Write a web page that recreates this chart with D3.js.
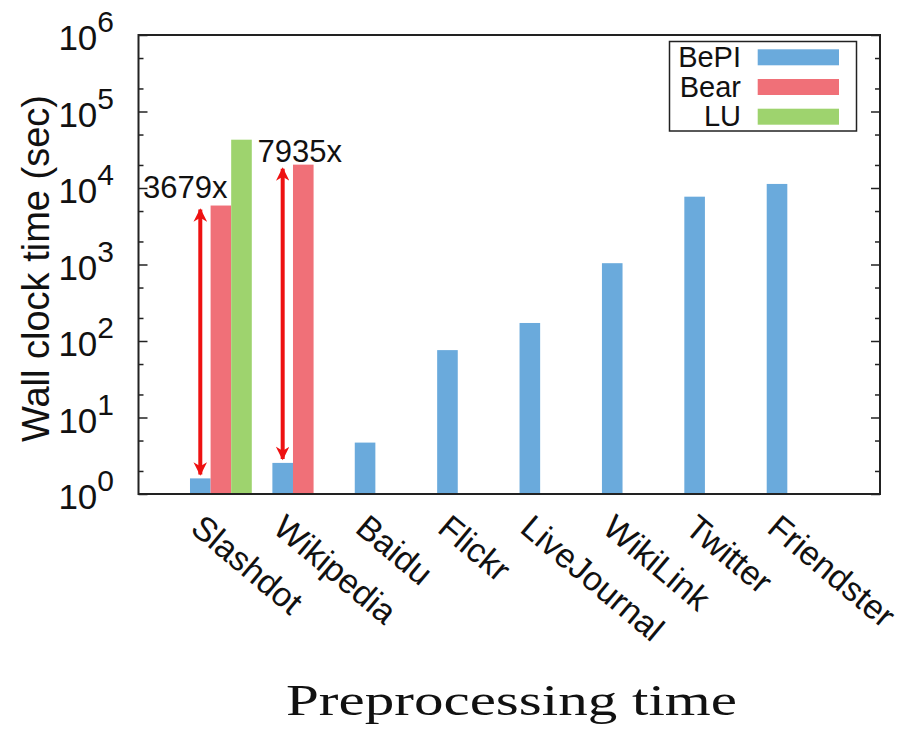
<!DOCTYPE html>
<html>
<head>
<meta charset="utf-8">
<script src="https://cdn.jsdelivr.net/npm/d3@7"></script>
<style>
	body { margin: 0; background: #fff; }
	svg text { font-family: "Liberation Sans", Arial, sans-serif; fill: #111; }
</style>
</head>
<body>
<div id="chart"></div>
<script>
// data
var categories = ["Slashdot", "Wikipedia", "Baidu", "Flickr", "LiveJournal", "WikiLink", "Twitter", "Friendster"];
var bepi = [1.6, 2.55, 4.7, 76, 172, 1040, 7700, 11300];
var bear = [5900, 20200, null, null, null, null, null, null];
var lu = [42800, null, null, null, null, null, null, null];
var seriesNames = ["BePI", "Bear", "LU"];
var seriesColors = ["#6aaadc", "#f07078", "#9ed36e"];
var majorTicks = [1, 10, 100, 1000, 10000, 100000, 1000000];
var minorTicks = [2, 5, 20, 50, 200, 500, 2000, 5000, 20000, 50000, 200000, 500000];
// speed-up arrows: category index and label
var speedups = [{ i: 0, label: "3679x", dx: -15, dy: -12 }, { i: 1, label: "7935x", dx: 17, dy: -7 }];

var width = 915;
var height = 731;
var plotLeft = 138.5, plotRight = 880, plotTop = 35, plotBottom = 494;

var svg = d3.select("#chart")
	.append("svg")
	.attr("width", width)
	.attr("height", height);

var x = d3.scaleLinear().domain([0, categories.length + 1]).range([plotLeft, plotRight]);
var y = d3.scaleLog().domain([1, 1e6]).range([plotBottom, plotTop]);
var barW = 0.25;

var allSeries = [bepi, bear, lu];

// bars
allSeries.forEach(function (values, s) {
	var rows = values.map(function (v, i) { return { v: v, i: i }; })
		.filter(function (d) { return d.v !== null; });
	svg.append("g").selectAll("rect")
		.data(rows)
		.enter()
		.append("rect")
		.attr("x", function (d) { return x(d.i + 1 + (s - 1.5) * barW); })
		.attr("width", x(barW) - x(0))
		.attr("y", function (d) { return y(d.v); })
		.attr("height", function (d) { return plotBottom - y(d.v); })
		.attr("fill", seriesColors[s]);
});

// axes ticks (inward, mirrored)
function tickAxis (axisFn, pos, vals, len) {
	var g = svg.append("g")
		.attr("transform", "translate(" + pos + ",0)")
		.call(axisFn(y).tickValues(vals).tickSize(len).tickFormat(""));
	g.select(".domain").remove();
	g.selectAll("line").attr("stroke", "#222").attr("stroke-width", 1.5);
}
tickAxis(d3.axisLeft, plotLeft, majorTicks, -9);
tickAxis(d3.axisLeft, plotLeft, minorTicks, -5);
tickAxis(d3.axisRight, plotRight, majorTicks, -9);
tickAxis(d3.axisRight, plotRight, minorTicks, -5);

// frame
svg.append("rect")
	.attr("x", plotLeft).attr("y", plotTop)
	.attr("width", plotRight - plotLeft).attr("height", plotBottom - plotTop)
	.attr("fill", "none")
	.attr("stroke", "#222")
	.attr("stroke-width", 2);

// y tick labels with superscripts
var ylab = svg.append("g").selectAll("text")
	.data(majorTicks)
	.enter()
	.append("text")
	.attr("x", 114)
	.attr("y", function (d) { return y(d) + 15; })
	.attr("text-anchor", "end")
	.style("font-size", "35px");
ylab.append("tspan").text("10");
ylab.append("tspan")
	.attr("dy", -18)
	.style("font-size", "30px")
	.text(function (d) { return Math.round(Math.log10(d)); });

// y axis title
svg.append("text")
	.attr("transform", "translate(49," + ((plotTop + plotBottom) / 2 + 4) + ") rotate(-90)")
	.attr("text-anchor", "middle")
	.style("font-size", "38px")
	.text("Wall clock time (sec)");

// x category labels
svg.append("g").selectAll("text")
	.data(categories)
	.enter()
	.append("text")
	.attr("transform", function (d, i) {
		return "translate(" + (x(i + 1) - 32) + ",531) rotate(40)";
	})
	.style("font-size", "34px")
	.text(function (d) { return d; });

// x title
svg.append("text")
	.attr("x", (286 + 737) / 2)
	.attr("y", 715)
	.attr("text-anchor", "middle")
	.attr("textLength", 451)
	.attr("lengthAdjust", "spacingAndGlyphs")
	.style("font-family", "'Liberation Serif', 'DejaVu Serif', serif")
	.style("font-size", "45px")
	.text("Preprocessing time");

// speed-up arrows
var defs = svg.append("defs");
defs.append("marker")
	.attr("id", "head")
	.attr("viewBox", "0 0 10 10")
	.attr("refX", 9)
	.attr("refY", 5)
	.attr("markerWidth", 3.6)
	.attr("markerHeight", 3.4)
	.attr("orient", "auto-start-reverse")
	.append("path")
	.attr("d", "M0,0 L10,5 L0,10 L3,5 Z")
	.attr("fill", "#ee1111");

speedups.forEach(function (s) {
	var ax = x(s.i + 1 - barW);
	var y0 = y(bepi[s.i]) - 4;
	var y1 = y(bear[s.i]) + 4;
	svg.append("line")
		.attr("x1", ax).attr("x2", ax)
		.attr("y1", y0).attr("y2", y1)
		.attr("stroke", "#ee1111")
		.attr("stroke-width", 4)
		.attr("marker-start", "url(#head)")
		.attr("marker-end", "url(#head)");
	svg.append("text")
		.attr("x", ax + s.dx)
		.attr("y", y1 + s.dy)
		.attr("text-anchor", "middle")
		.style("font-size", "31px")
		.text(s.label);
});

// legend
var legend = svg.append("g");
legend.append("rect")
	.attr("x", 669.5).attr("y", 41.5)
	.attr("width", 187).attr("height", 89.5)
	.attr("fill", "#fff")
	.attr("stroke", "#222")
	.attr("stroke-width", 1.5);
seriesNames.forEach(function (name, s) {
	var cy = 57.3 + s * 29.7;
	legend.append("rect")
		.attr("x", 757.7).attr("y", cy - 8)
		.attr("width", 81.3).attr("height", 16)
		.attr("fill", seriesColors[s]);
	legend.append("text")
		.attr("x", 741)
		.attr("y", cy + 9.5)
		.attr("text-anchor", "end")
		.style("font-size", "29px")
		.text(name);
});
</script>
</body>
</html>
